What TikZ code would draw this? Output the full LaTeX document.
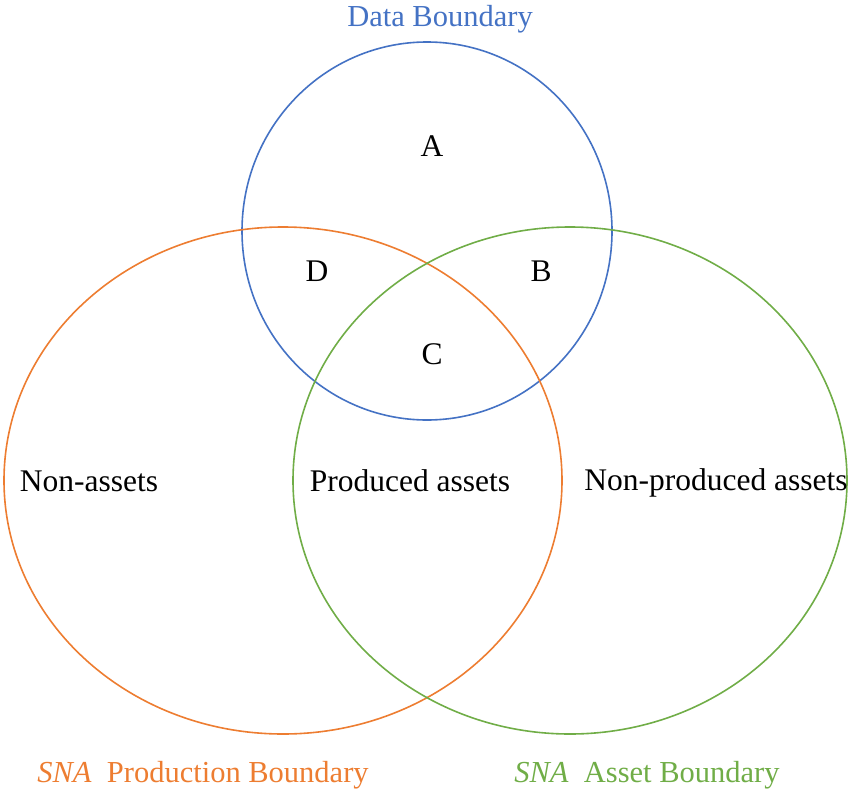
\documentclass[tikz,border=0pt]{standalone}
\usepackage{fontspec}
\setmainfont{Liberation Serif}
\definecolor{cblue}{HTML}{4472C4}
\definecolor{corange}{HTML}{ED7D31}
\definecolor{cgreen}{HTML}{70AD47}
\begin{document}
\begin{tikzpicture}[x=1pt,y=-1pt,
  ring/.style={line width=1.6pt},
  lbl/.style={inner sep=0pt,font=\fontsize{31.5}{34}\selectfont},
  ttl/.style={inner sep=0pt,font=\fontsize{30.5}{33}\selectfont}]
\useasboundingbox (0,0) rectangle (848,792);
\draw[ring,cblue] (427,231) ellipse [x radius=185, y radius=189];
\draw[ring,corange] (283,480.5) ellipse [x radius=279, y radius=253.5];
\draw[ring,cgreen] (570,480.5) ellipse [x radius=277, y radius=253.5];
\node[ttl,text=cblue] (tdata) at (440,19) {Data Boundary};
\node[lbl] (a) at (432,146) {A};
\node[lbl] (d) at (317,271) {D};
\node[lbl] (b) at (541,271) {B};
\node[lbl] (c) at (432,354) {C};
\node[lbl] (na) at (89,481) {Non-assets};
\node[lbl] (pa) at (410,481) {Produced assets};
\node[lbl] (npa) at (716,483) {Non-produced assets};
\node[ttl,text=corange] (tprod) at (203,775) {\textit{SNA}\ \ Production Boundary};
\node[ttl,text=cgreen] (tasset) at (647,775) {\textit{SNA}\ \ Asset Boundary};
\end{tikzpicture}
\end{document}
